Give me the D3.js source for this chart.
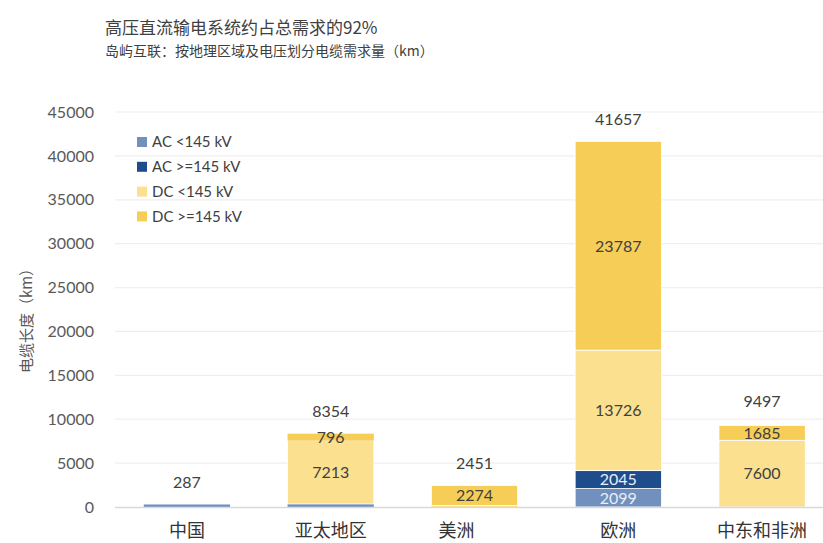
<!DOCTYPE html>
<html><head><meta charset="utf-8">
<script src="https://cdn.jsdelivr.net/npm/d3@7"></script>
<style>
body{margin:0;background:#fff;}
text{font-family:"Lato","Carlito","Open Sans",sans-serif;}
.cjk{font-family:"Noto Sans CJK SC","Noto Sans",sans-serif;}
</style></head>
<body>
<svg id="c" width="823" height="543"></svg>
<script>
const categories = ["中国","亚太地区","美洲","欧洲","中东和非洲"];
const seriesNames = ["AC <145 kV","AC >=145 kV","DC <145 kV","DC >=145 kV"];
const acLow  = [287, 345, 0, 2099, 0];
const acHigh = [0, 0, 0, 2045, 0];
const dcLow  = [0, 7213, 177, 13726, 7600];
const dcHigh = [0, 796, 2274, 23787, 1685];
const totals = [287, 8354, 2451, 41657, 9497];
const yTicks = [0,5000,10000,15000,20000,25000,30000,35000,40000,45000];
const colors = ["#7190bd","#1f4c8a","#fae08f","#f6cd57"];
const labelColors = ["#e8eef7","#e8eef7","#404040","#404040"];
const showSegLabel = [[false,false,false,false],[false,false,true,true],[false,false,false,true],[true,true,true,true],[false,false,true,true]];

const svg = d3.select("#c");
const x = d3.scaleBand().domain(categories).range([115, 834]).paddingInner(0.4).paddingOuter(0.2);
const y = d3.scaleLinear().domain([0,45000]).range([507,112]);

// gridlines
svg.append("g").selectAll("line").data(yTicks.filter(d=>d>0)).join("line")
  .attr("x1",115).attr("x2",823).attr("y1",d=>y(d)).attr("y2",d=>y(d))
  .attr("stroke","#efefef").attr("stroke-width",1.2);

// y axis labels
const yAxis = d3.axisLeft(y).tickValues(yTicks).tickFormat(d3.format("d")).tickSize(0).tickPadding(0);
const ya = svg.append("g").attr("transform","translate(94,0)").call(yAxis);
ya.select(".domain").remove();
ya.selectAll("text").attr("font-size",16).attr("fill","#595959").style("font-family","Lato,sans-serif");

// stack
const rows = categories.map((c,i)=>({cat:c, s0:acLow[i], s1:acHigh[i], s2:dcLow[i], s3:dcHigh[i], i}));
const stack = d3.stack().keys(["s0","s1","s2","s3"])(rows);
stack.forEach((layer,k)=>{
  const g = svg.append("g");
  g.selectAll("rect").data(layer).join("rect")
    .attr("x",d=>x(d.data.cat)).attr("width",x.bandwidth())
    .attr("y",d=>y(d[1])).attr("height",d=>Math.max(0,y(d[0])-y(d[1])))
    .attr("fill",colors[k]).attr("stroke","#fff").attr("stroke-width",d=>(d[1]-d[0])>1000?0.8:0);
  g.selectAll("text").data(layer.filter(d=>showSegLabel[d.data.i][k])).join("text")
    .attr("x",d=>x(d.data.cat)+x.bandwidth()/2).attr("y",d=>(y(d[0])+y(d[1]))/2)
    .attr("dy","0.36em").attr("text-anchor","middle").attr("font-size",16)
    .attr("fill",labelColors[k]).text(d=>d.data["s"+k]);
});

// baseline
svg.append("line").attr("x1",115).attr("x2",823).attr("y1",y(0)+0.5).attr("y2",y(0)+0.5)
  .attr("stroke","#d9d9d9").attr("stroke-width",1.5);

// totals
svg.append("g").selectAll("text").data(categories).join("text")
  .attr("x",d=>x(d)+x.bandwidth()/2).attr("y",(d,i)=>y(totals[i])-22)
  .attr("dy","0.36em").attr("text-anchor","middle").attr("font-size",16).attr("fill","#404040")
  .text((d,i)=>totals[i]);

// x axis labels
const xAxis = d3.axisBottom(x).tickSize(0).tickPadding(0);
const xa = svg.append("g").attr("transform","translate(0,524)").call(xAxis);
xa.select(".domain").remove();
xa.selectAll("text").attr("class","cjk").attr("font-size",18).attr("fill","#333")
  .attr("dx",d=>d==="美洲"?-18:0);

// y title
svg.append("text").attr("class","cjk").attr("transform","translate(27,317) rotate(-90)")
  .attr("text-anchor","middle").attr("dy","0.36em").attr("font-size",15).attr("fill","#595959")
  .text("电缆长度（km）");

// titles
svg.append("text").attr("class","cjk").attr("x",105).attr("y",34).attr("font-size",17).attr("fill","#404040")
  .text("高压直流输电系统约占总需求的92%");
svg.append("text").attr("class","cjk").attr("x",105).attr("y",56).attr("font-size",14).attr("fill","#404040")
  .text("岛屿互联：按地理区域及电压划分电缆需求量（km）");

// legend
const lg = svg.append("g").selectAll("g").data(seriesNames).join("g")
  .attr("transform",(d,i)=>`translate(137,${142+i*24.8})`);
lg.append("rect").attr("x",0).attr("y",-5).attr("width",10).attr("height",10).attr("fill",(d,i)=>colors[i]);
lg.append("text").attr("x",15).attr("dy","0.36em").attr("font-size",15).attr("fill","#404040").text(d=>d);
</script>
</body></html>
